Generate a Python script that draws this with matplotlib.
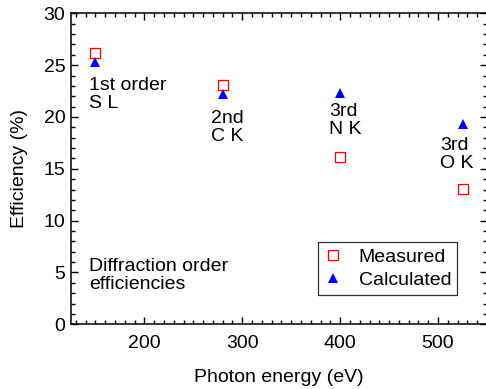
import matplotlib.pyplot as plt
from matplotlib.ticker import MultipleLocator

# diffraction order efficiencies at the four edges
energy = [150, 280, 400, 525]
measured = [26.2, 23.1, 16.1, 13.1]
calculated = [25.3, 22.2, 22.3, 19.3]

# (x, top y, text) for the edge labels
edge_labels = [
    (143.5, 23.9, "1st order\nS L"),
    (268, 20.7, "2nd\nC K"),
    (388.5, 21.35, "3rd\nN K"),
    (502.5, 18.1, "3rd\nO K"),
]

plt.rcParams['font.family'] = ['Liberation Sans', 'DejaVu Sans']

fig = plt.figure(figsize=(4.86, 3.89), dpi=100)
ax = fig.add_axes([0.146, 0.1663, 0.856, 0.7995])

ax.plot(energy, measured, linestyle='none', marker='s', markersize=7.5,
        markerfacecolor='none', markeredgecolor='red', markeredgewidth=0.9,
        label='Measured')
ax.plot(energy, calculated, linestyle='none', marker='^', markersize=7.5,
        color='blue', markeredgewidth=0, label='Calculated')

for x, y, s in edge_labels:
    ax.text(x, y, s, ha='left', va='top', fontsize=14, linespacing=1.08)
ax.text(143.5, 6.4, "Diffraction order\nefficiencies", ha='left', va='top',
        fontsize=14, linespacing=1.08)

ax.set_xlim(125, 550)
ax.set_ylim(0, 30)
ax.xaxis.set_major_locator(MultipleLocator(100))
ax.xaxis.set_minor_locator(MultipleLocator(10))
ax.yaxis.set_major_locator(MultipleLocator(5))
ax.yaxis.set_minor_locator(MultipleLocator(1))
ax.tick_params(which='both', direction='in', top=True, right=True,
               width=1.0, labelsize=14)
ax.tick_params(which='major', length=5)
ax.tick_params(which='minor', length=2.6)
ax.tick_params(axis='x', pad=8)
ax.tick_params(axis='y', pad=4)
for sp in ax.spines.values():
    sp.set_linewidth(1.1)

ax.set_xlabel('Photon energy (eV)', fontsize=14, labelpad=12)
ax.set_ylabel('Efficiency (%)', fontsize=14, labelpad=11)

leg = ax.legend(loc='lower right', bbox_to_anchor=(0.928, 0.094),
                borderaxespad=0, fontsize=14, fancybox=False,
                handlelength=1.0, handletextpad=0.8, borderpad=0.3,
                labelspacing=0.3)
leg.get_frame().set_edgecolor('black')
leg.get_frame().set_linewidth(0.9)

fig.savefig('out.png', dpi=100)
